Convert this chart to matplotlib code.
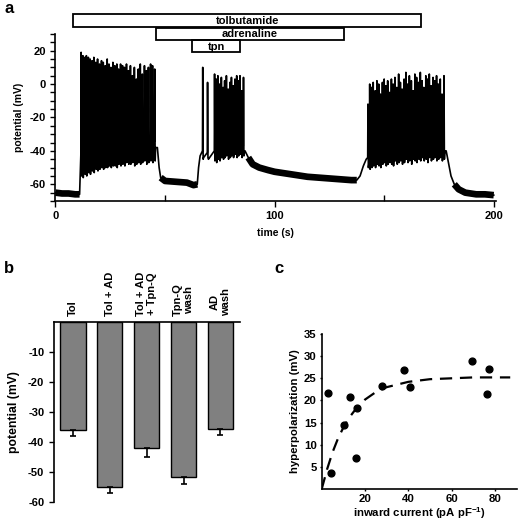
import matplotlib
matplotlib.use("Agg")
import matplotlib.pyplot as plt
from matplotlib.patches import Rectangle

plt.rcParams['font.family'] = ['Liberation Sans', 'DejaVu Sans']
plt.rcParams['font.weight'] = 'bold'
plt.rcParams['font.size'] = 7.5
plt.rcParams['mathtext.default'] = 'regular'
plt.rcParams['axes.unicode_minus'] = False

# ---- panel a: membrane potential trace ----
# quiet stretches (time s, mV)
rest_t = [0, 3, 6, 9, 11.0]
rest_v = [-65, -65.5, -65.5, -66, -66]
wash1_t = [46.5, 47.3, 48.0, 50, 55, 60, 63, 64.7, 65.3, 66.0]
wash1_v = [-38, -50, -56, -58, -58.5, -59, -60.5, -60, -50, -43]
decay_t = [86.5, 88, 90, 93, 97, 100, 105, 110, 115, 120, 125, 130, 135, 137.5, 139, 140.5, 141.8]
decay_v = [-40, -44, -48, -50, -51.5, -52.5, -53.5, -54.5, -55.5, -56, -56.5, -57, -57.5, -57.5, -55, -49, -45]
wash3_t = [178.3, 179.5, 180.5, 182, 184, 187, 192, 196, 200]
wash3_v = [-40, -48, -55, -60, -63, -65, -66, -66, -66.5]

# spikes: time, peak, after-trough, inter-spike plateau
b1_t = [11.7, 12.5, 13.4, 14.1, 15.0, 15.8, 16.7, 17.5, 18.4, 19.2, 20.1, 21.0, 21.8, 22.7,
        23.6, 24.4, 25.3, 26.2, 27.1, 28.0, 28.8, 29.7, 30.6, 31.5, 32.4, 33.3, 34.2, 35.1,
        36.0, 36.9, 37.8, 38.7, 39.6, 40.6, 41.5, 42.4, 43.4, 44.3, 45.3]
b1_pk = [19, 17, 16, 17, 16, 15, 14, 16, 13, 15, 12, 14, 13, 11, 15, 12, 10, 13, 11, 12,
         9, 12, 11, 10, 12, 8, 11, 5, 10, 3, 9, 12, 6, 11, 8, 10, 12, 11, 9]
b1_tr = [-55, -56, -54, -55, -53, -54, -52, -53, -51, -52, -51, -50, -51, -50, -50, -49,
         -50, -49, -49, -50, -48, -49, -48, -49, -47, -48, -48, -47, -49, -48, -47, -48,
         -47, -46, -48, -47, -46, -47, -46]
b1_pl = [-42, -40, -38, -40, -39, -38, -40, -37, -39, -38, -40, -37, -38, -36, -39, -37,
         -38, -36, -38, -37, -35, -37, -38, -36, -34, -37, -36, -38, -35, -36, -34, -37,
         -35, -33, -36, -34, -35, -32, -34]

b2_t = [67.2, 69.4, 72.6, 73.4, 74.1, 74.9, 75.7, 76.5, 77.2, 78.0, 78.8, 79.6, 80.3,
        81.1, 81.9, 82.7, 83.4, 84.2, 85.0, 85.8]
b2_pk = [10, 1, 6, 3, 5, 0, 4, -2, 2, 5, -3, 1, 4, -1, 3, 5, 2, 5, -4, 4]
b2_tr = [-45, -44, -46, -47, -45, -46, -44, -45, -44, -43, -45, -44, -43, -44, -42, -44,
         -43, -42, -44, -43]
b2_pl = [-40, -41, -40, -39, -38, -40, -37, -39, -38, -36, -38, -37, -38, -36, -37, -38,
         -36, -37, -35, -37]

b3_t = [142.6, 143.4, 144.2, 145.0, 145.9, 146.7, 147.5, 148.3, 149.2, 150.0, 150.8,
        151.6, 152.5, 153.3, 154.1, 154.9, 155.8, 156.6, 157.4, 158.2, 159.1, 159.9,
        160.7, 161.5, 162.4, 163.2, 164.0, 164.8, 165.7, 166.5, 167.3, 168.1, 169.0,
        169.8, 170.6, 171.4, 172.3, 173.1, 173.9, 174.7, 175.6, 176.4, 177.3]
b3_pk = [-12, 0, -2, 1, -4, 2, 0, -6, 1, 3, -1, 2, -5, 3, 0, 4, -2, 6, 1, -3, 3, 7, 0,
         5, 2, -4, 6, 4, 1, 7, 2, -2, 5, 3, 6, -1, 4, 2, 5, 0, 3, -6, 5]
b3_tr = [-50, -51, -50, -49, -50, -48, -49, -50, -48, -47, -49, -48, -47, -48, -49, -46,
         -48, -47, -46, -48, -47, -45, -47, -46, -48, -45, -46, -47, -45, -46, -44, -46,
         -45, -47, -44, -46, -45, -44, -46, -45, -44, -46, -45]
b3_pl = [-44, -42, -41, -42, -40, -41, -39, -40, -41, -38, -40, -39, -38, -40, -38, -39,
         -37, -39, -38, -37, -39, -37, -38, -36, -38, -37, -36, -38, -37, -36, -37, -35,
         -37, -36, -35, -37, -36, -35, -36, -34, -36, -35, -36]

drugs = ['tolbutamide', 'adrenaline', 'tpn']
drug_on = [8.1, 45.7, 62.5]
drug_off = [166.9, 131.7, 84.2]
drug_lo = [34.3, 26.5, 19.2]
drug_hi = [42.0, 33.7, 26.4]

# ---- panel b ----
conds = ['Tol', 'Tol + AD', 'Tol + AD\n+ Tpn-Q', 'Tpn-Q\nwash', 'AD\nwash']
pot = [-36.2, -55.0, -42.1, -51.7, -35.8]
pot_err = [1.7, 2.0, 3.0, 2.3, 1.9]

# ---- panel c ----
cur = [3.1, 4.2, 10.2, 12.9, 16.2, 15.8, 27.7, 38.0, 40.6, 69.5, 77.2, 76.2]
hyp = [21.6, 3.6, 14.4, 20.8, 18.2, 7.0, 23.3, 26.9, 23.0, 29.0, 27.2, 21.4]
fit_x = [0, 2.5, 5, 7.5, 10, 12.5, 15, 20, 25, 30, 40, 50, 60, 70, 80, 87]
fit_y = [0, 4.5, 8.3, 11.4, 13.9, 16.0, 17.6, 20.2, 21.9, 23.0, 24.2, 24.8, 25.0, 25.2, 25.2, 25.2]


def burst(times, peaks, troughs, plateaus):
    tt, vv = [], []
    for t, p, tr, pl in zip(times, peaks, troughs, plateaus):
        tt += [t - 0.12, t, t + 0.18, t + 0.4]
        vv += [pl, p, tr, pl - 4]
    return tt, vv


fig = plt.figure(figsize=(5.2, 5.27), dpi=100)

# panel a
ax = fig.add_axes([0.1067, 0.6186, 0.847, 0.3169])
segs = [(rest_t, rest_v), burst(b1_t, b1_pk, b1_tr, b1_pl), (wash1_t, wash1_v),
        burst(b2_t, b2_pk, b2_tr, b2_pl), (decay_t, decay_v),
        burst(b3_t, b3_pk, b3_tr, b3_pl), (wash3_t, wash3_v)]
trace_t, trace_v = [], []
for st, sv in segs:
    trace_t += list(st)
    trace_v += list(sv)
ax.plot(trace_t, trace_v, color='black', lw=1.2)
# noisy baseline stretches drawn as thick bands
ax.plot(rest_t, rest_v, color='black', lw=4.8, solid_capstyle='butt')
ax.plot(wash1_t[2:-2], wash1_v[2:-2], color='black', lw=4.8, solid_capstyle='butt')
ax.plot(decay_t[1:-3], decay_v[1:-3], color='black', lw=4.8, solid_capstyle='butt')
ax.plot(wash3_t[3:], wash3_v[3:], color='black', lw=4.8, solid_capstyle='butt')

for name, on, off, lo, hi in zip(drugs, drug_on, drug_off, drug_lo, drug_hi):
    ax.add_patch(Rectangle((on, lo), off - on, hi - lo, fill=False, lw=1.3,
                           ec='black', clip_on=False))
    ax.text((on + off) / 2, (lo + hi) / 2 - 0.3, name, ha='center', va='center',
            fontsize=8, fontweight='bold')

ax.set_xlim(0, 201)
ax.set_ylim(-70, 30)
ax.set_xticks([0, 100, 200])
ax.set_xticks([50, 150], minor=True)
ax.set_yticks([-60, -40, -20, 0, 20])
ax.set_yticks(range(-70, 31, 5), minor=True)
ax.tick_params(axis='x', which='major', direction='out', length=4, width=1, labelsize=8)
ax.tick_params(axis='x', which='minor', direction='in', length=4, width=1)
ax.tick_params(axis='y', which='both', direction='out', length=3.5, width=1, labelsize=8)
for s in ['top', 'right']:
    ax.spines[s].set_visible(False)
for s in ['left', 'bottom']:
    ax.spines[s].set_linewidth(1.2)
ax.set_xlabel('time (s)', fontweight='bold', labelpad=5)
ax.set_ylabel('potential (mV)', fontweight='bold', labelpad=4)
fig.text(0.008, 0.998, 'a', fontsize=12, fontweight='bold', va='top')

# panel b
bx = fig.add_axes([0.1038, 0.0474, 0.3577, 0.3422])
pos = range(len(conds))
bx.bar(pos, pot, width=0.69, color='#808080', edgecolor='black', lw=1,
       yerr=[pot_err, [0] * len(pot)], error_kw=dict(ecolor='black', elinewidth=1.2,
                                                     capsize=2, capthick=1.2))
bx.set_xlim(-0.51, 4.53)
bx.set_ylim(-60, 0)
bx.set_yticks([-60, -50, -40, -30, -20, -10])
bx.xaxis.tick_top()
bx.set_xticks(list(pos))
bx.set_xticklabels(conds, rotation=90, va='bottom', ha='center',
                   multialignment='center', fontweight='bold', fontsize=8)
bx.tick_params(axis='x', length=0, pad=4)
bx.tick_params(axis='y', direction='out', length=3.5, width=1, labelsize=8)
for s in ['bottom', 'right']:
    bx.spines[s].set_visible(False)
for s in ['left', 'top']:
    bx.spines[s].set_linewidth(1.2)
bx.set_ylabel('potential (mV)', fontweight='bold', fontsize=8.8, labelpad=6)
fig.text(0.008, 0.505, 'b', fontsize=12, fontweight='bold', va='top')

# panel c
cx = fig.add_axes([0.6187, 0.0721, 0.375, 0.2941])
cx.plot(fit_x, fit_y, color='black', lw=1.6, dashes=(5.5, 3.5))
cx.scatter(cur, hyp, s=24, color='black', zorder=3)
cx.set_xlim(0, 90)
cx.set_ylim(0, 35)
cx.set_xticks([20, 40, 60, 80])
cx.set_yticks([5, 10, 15, 20, 25, 30, 35])
cx.tick_params(direction='out', length=1.5, width=1, labelsize=8.2, pad=2)
for s in ['top', 'right']:
    cx.spines[s].set_visible(False)
for s in ['left', 'bottom']:
    cx.spines[s].set_linewidth(1.2)
cx.set_xlabel('inward current (pA pF$^{-1}$)', fontweight='bold', fontsize=8.2, labelpad=1)
cx.set_ylabel('hyperpolarization (mV)', fontweight='bold', fontsize=8.2, labelpad=3)
fig.text(0.527, 0.505, 'c', fontsize=12, fontweight='bold', va='top')

fig.savefig('out.png', dpi=100)
